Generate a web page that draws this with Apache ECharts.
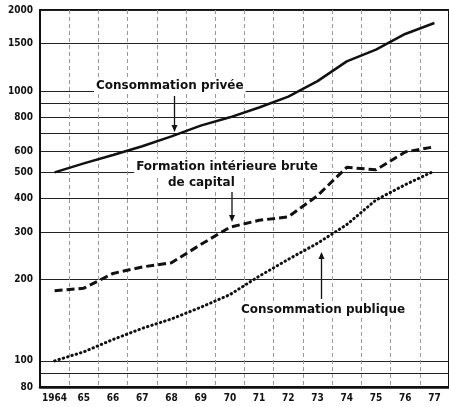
<!DOCTYPE html>
<html>
<head>
<meta charset="utf-8">
<title>Consommation et formation de capital 1964-1977</title>
<script src="https://cdn.jsdelivr.net/npm/echarts@6/dist/echarts.min.js"></script>
<style>
html, body { margin: 0; padding: 0; background: #fff; }
#chart { width: 449px; height: 407px; }
</style>
</head>
<body>
<div id="chart"></div>
<script>
// années (axe horizontal)
var years = ['1964', '65', '66', '67', '68', '69', '70', '71', '72', '73', '74', '75', '76', '77'];
// séries (échelle logarithmique)
var consPrivee = [500, 540, 580, 625, 680, 745, 800, 870, 955, 1090, 1290, 1425, 1630, 1790];
var formationCapital = [182, 186, 211, 223, 231, 270, 313, 332, 342, 410, 522, 511, 595, 622];
var consPublique = [100, 108, 120, 132, 143, 158, 176, 206, 238, 273, 320, 395, 450, 506];
// lignes horizontales et graduations
var gridValues = [80, 90, 100, 200, 300, 400, 500, 600, 700, 800, 900, 1000, 1500, 2000];
var labelValues = [80, 100, 200, 300, 400, 500, 600, 800, 1000, 1500, 2000];

var ink = '#111';
var labelFont = "'DejaVu Sans Condensed', 'Liberation Sans Narrow', sans-serif";
var noteFont = "bold 12px 'DejaVu Sans', sans-serif";

function arrow(x, y1, y2) {
	var dir = y2 > y1 ? 1 : -1;
	return {
		type: 'group',
		z: 100,
		children: [
			{ type: 'line', shape: { x1: x, y1: y1, x2: x, y2: y2 - dir * 5 }, style: { stroke: ink, lineWidth: 1.3 } },
			{ type: 'polygon', shape: { points: [[x - 3, y2 - dir * 7], [x + 3, y2 - dir * 7], [x, y2]] }, style: { fill: ink } }
		]
	};
}

function note(text, x, y, align) {
	return {
		type: 'text',
		x: x,
		y: y,
		z: 100,
		style: {
			text: text,
			font: noteFont,
			fill: ink,
			align: align || 'left',
			verticalAlign: 'middle',
			backgroundColor: '#fff',
			padding: [2, 2]
		}
	};
}

var myChart = echarts.init(document.getElementById('chart'));

var option = {
	backgroundColor: '#fff',
	animation: false,
	grid: {
		left: 40,
		right: -4,
		top: 10,
		bottom: 20,
		show: true,
		borderColor: ink,
		borderWidth: 2
	},
	xAxis: {
		type: 'category',
		data: years,
		boundaryGap: true,
		axisLine: { lineStyle: { color: ink, width: 2.5 } },
		axisTick: { show: false },
		axisLabel: {
			interval: 0,
			margin: 6,
			color: ink,
			fontFamily: labelFont,
			fontWeight: 'bold',
			fontSize: 10
		},
		splitLine: {
			show: true,
			interval: 0,
			lineStyle: { color: '#999', width: 1, type: [4, 3] }
		}
	},
	yAxis: {
		type: 'log',
		logBase: 10,
		min: 80,
		max: 2000,
		axisLine: { show: true, lineStyle: { color: ink, width: 2 } },
		axisTick: { show: false, customValues: gridValues },
		axisLabel: {
			customValues: labelValues,
			margin: 7,
			color: ink,
			fontFamily: labelFont,
			fontWeight: 'bold',
			fontSize: 10,
			formatter: function (v) { return String(Math.round(v)); }
		},
		splitLine: {
			show: true,
			lineStyle: { color: '#222', width: 1 }
		}
	},
	series: [
		{
			name: 'Consommation privée',
			type: 'line',
			data: consPrivee,
			symbol: 'none',
			lineStyle: { color: ink, width: 2.5 }
		},
		{
			name: 'Formation intérieure brute de capital',
			type: 'line',
			data: formationCapital,
			symbol: 'none',
			lineStyle: { color: ink, width: 3, type: [8, 4] }
		},
		{
			name: 'Consommation publique',
			type: 'line',
			data: consPublique,
			symbol: 'none',
			lineStyle: { color: ink, width: 3, type: [0.5, 4], cap: 'round' }
		}
	],
	graphic: [
		note('Consommation privée', 94, 86),
		arrow(174.5, 96, 132),
		note('Formation intérieure brute', 227, 167, 'center'),
		note('de capital', 166, 183),
		arrow(232, 192, 222),
		note('Consommation publique', 239, 310),
		arrow(321.5, 299, 252)
	]
};

myChart.setOption(option);
</script>
</body>
</html>
